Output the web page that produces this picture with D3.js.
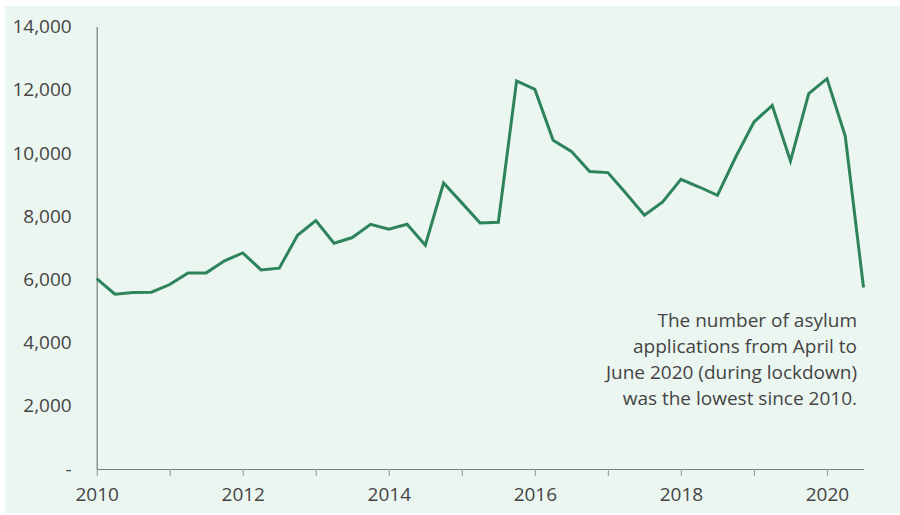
<!DOCTYPE html>
<html>
<head>
<meta charset="utf-8">
<script src="https://cdn.jsdelivr.net/npm/d3@7"></script>
<style>
  html, body { margin: 0; padding: 0; background: #ffffff; }
  svg { display: block; }
  text { font-family: "Open Sans", "Noto Sans", sans-serif; fill: #444444; }
</style>
</head>
<body>
<svg id="chart" width="900" height="515"></svg>
<script>
// Quarterly asylum applications, Q1 2010 to Q3 2020 (quarters as fractional years)
const quarters = [
  2010.00, 2010.25, 2010.50, 2010.75,
  2011.00, 2011.25, 2011.50, 2011.75,
  2012.00, 2012.25, 2012.50, 2012.75,
  2013.00, 2013.25, 2013.50, 2013.75,
  2014.00, 2014.25, 2014.50, 2014.75,
  2015.00, 2015.25, 2015.50, 2015.75,
  2016.00, 2016.25, 2016.50, 2016.75,
  2017.00, 2017.25, 2017.50, 2017.75,
  2018.00, 2018.25, 2018.50, 2018.75,
  2019.00, 2019.25, 2019.50, 2019.75,
  2020.00, 2020.25, 2020.50
];
const applications = [
  6020, 5530, 5585, 5595,
  5837, 6205, 6205, 6585,
  6837, 6300, 6353, 7396,
  7860, 7143, 7323, 7743,
  7585, 7743, 7080, 9049,
  8420, 7786, 7806, 12280,
  12010, 10398, 10050, 9409,
  9377, 8713, 8028, 8448,
  9166, 8922, 8660, 9870,
  10977, 11504, 9744, 11874,
  12348, 10535, 5742
];
const yTicks = [0, 2000, 4000, 6000, 8000, 10000, 12000, 14000];
const xTicks = [2010, 2011, 2012, 2013, 2014, 2015, 2016, 2017, 2018, 2019, 2020];
const xLabelled = [2010, 2012, 2014, 2016, 2018, 2020];
const note = [
  "The number of asylum",
  "applications from April to",
  "June 2020 (during lockdown)",
  "was the lowest since 2010."
];

const svg = d3.select("#chart");
const W = 900, H = 515;
const fontSize = 19;

// panel background
svg.append("rect")
  .attr("x", 5).attr("y", 6)
  .attr("width", W - 5).attr("height", 507)
  .attr("fill", "#ecf6f1");

const x = d3.scaleLinear().domain([2010, 2020.5]).range([96.7, 863.5]);
const y = d3.scaleLinear().domain([0, 14000]).range([469, 26.5]);

// y axis: line and labels only
const yAxis = svg.append("g")
  .attr("transform", `translate(${x(2010)},0)`)
  .call(d3.axisLeft(y)
    .tickValues(yTicks)
    .tickSize(0)
    .tickPadding(25)
    .tickFormat(d => d === 0 ? "-" : d3.format(",")(d)));
yAxis.select(".domain").attr("stroke", "#7a7a7a").attr("stroke-width", 1.2);
yAxis.selectAll("text")
  .attr("font-size", fontSize)
  .attr("fill", "#444444")
  .style("font-family", "'Open Sans', sans-serif");

// x axis: yearly ticks, labels every other year
const xAxis = svg.append("g")
  .attr("transform", `translate(0,${y(0)})`)
  .call(d3.axisBottom(x)
    .tickValues(xTicks)
    .tickSize(7)
    .tickSizeOuter(0)
    .tickPadding(12)
    .tickFormat(d => xLabelled.includes(d) ? String(d) : ""));
xAxis.select(".domain").attr("stroke", "#7a7a7a").attr("stroke-width", 1.2);
xAxis.selectAll(".tick line").attr("stroke", "#a0a0a0").attr("stroke-width", 1.2);
xAxis.selectAll("text")
  .attr("font-size", fontSize)
  .attr("fill", "#444444")
  .style("font-family", "'Open Sans', sans-serif");

// series line
const line = d3.line()
  .x((d, i) => x(quarters[i]))
  .y(d => y(d));
svg.append("path")
  .datum(applications)
  .attr("d", line)
  .attr("fill", "none")
  .attr("stroke", "#2e845a")
  .attr("stroke-width", 3)
  .attr("stroke-linejoin", "miter");

// annotation
const noteG = svg.append("text")
  .attr("text-anchor", "end")
  .attr("font-size", fontSize)
  .attr("fill", "#444444");
note.forEach((t, i) => {
  noteG.append("tspan")
    .attr("x", 857)
    .attr("y", 327 + i * 25.9)
    .text(t);
});
</script>
</body>
</html>
